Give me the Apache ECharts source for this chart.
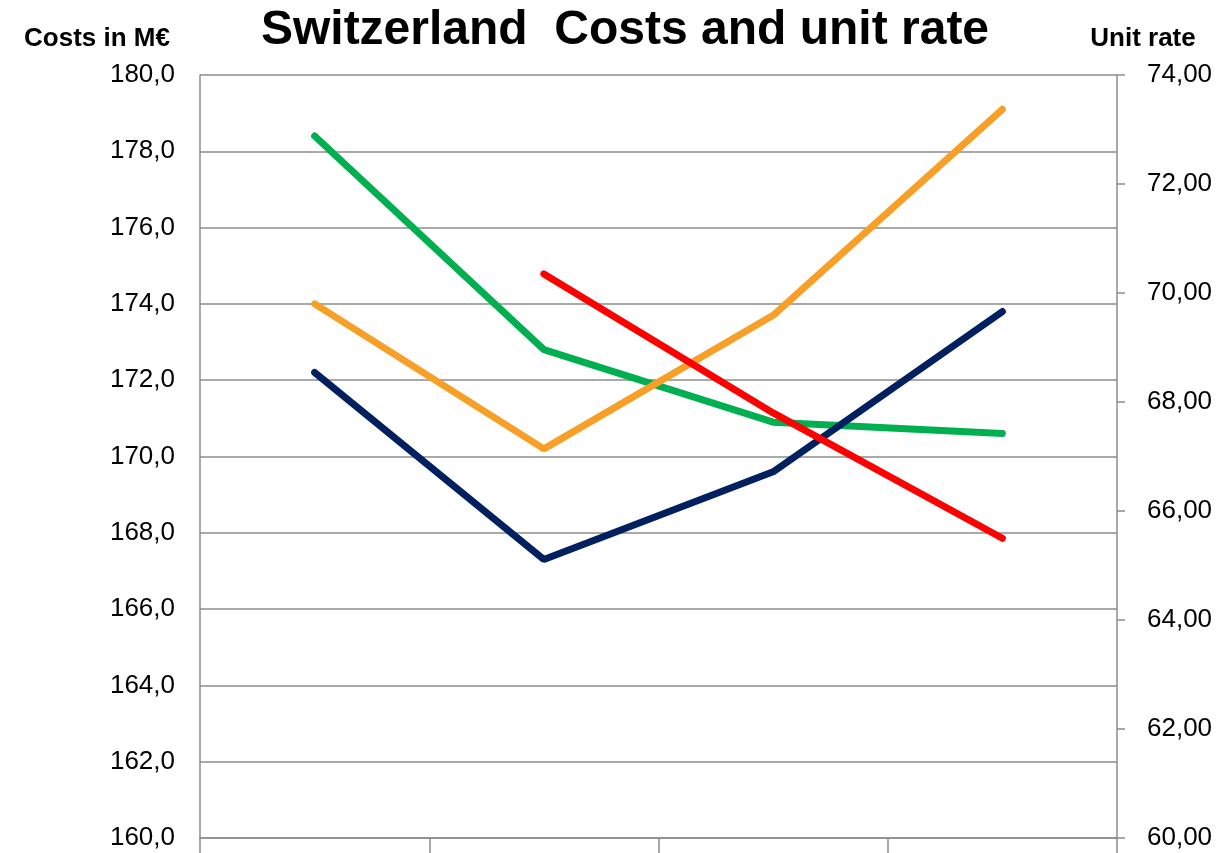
<!DOCTYPE html>
<html>
<head>
<meta charset="utf-8">
<script src="https://cdn.jsdelivr.net/npm/echarts@6/dist/echarts.min.js"></script>
<style>
  html, body { margin: 0; padding: 0; background: #fff; }
  #chart { width: 1224px; height: 853px; }
</style>
</head>
<body>
<div id="chart"></div>
<script>
// categories (labels are not shown in the picture)
var categories = ['1', '2', '3', '4'];
// costs in M€ (left axis)
var greenCosts = [178.4, 172.8, 170.9, 170.6];
var orangeCosts = [174.0, 170.2, 173.7, 179.1];
var navyCosts = [172.2, 167.3, 169.6, 173.8];
// unit rate (right axis)
var redRate = [null, 70.35, 67.8, 65.5];

var leftTicks = { min: 160, max: 180, interval: 2 };
var rightTicks = { min: 60, max: 74, interval: 2 };

var gridGrey = '#8c8c8c';

var chart = echarts.init(document.getElementById('chart'));
var option = {
    backgroundColor: '#fff',
    animation: false,
    title: [
        {
            text: 'Switzerland  Costs and unit rate',
            left: 620, top: 2, textAlign: 'center',
            textStyle: { fontFamily: 'Liberation Sans', fontSize: 48, fontWeight: 'bold', color: '#000' }
        },
        {
            text: 'Costs in M€',
            left: 92, top: 21, textAlign: 'center',
            textStyle: { fontFamily: 'Liberation Sans', fontSize: 26, fontWeight: 'bold', color: '#000' }
        },
        {
            text: 'Unit rate',
            left: 1138, top: 21, textAlign: 'center',
            textStyle: { fontFamily: 'Liberation Sans', fontSize: 26, fontWeight: 'bold', color: '#000' }
        }
    ],
    grid: { left: 200, right: 107, top: 75, bottom: 15, containLabel: false },
    xAxis: {
        type: 'category',
        data: categories,
        boundaryGap: true,
        axisLine: { show: true, lineStyle: { color: gridGrey, width: 1.5 } },
        axisTick: { show: true, length: 16, lineStyle: { color: gridGrey, width: 1.5 } },
        axisLabel: { show: false }
    },
    yAxis: [
        {
            type: 'value',
            min: leftTicks.min, max: leftTicks.max, interval: leftTicks.interval,
            axisLine: { show: true, lineStyle: { color: gridGrey, width: 1.5 } },
            axisTick: { show: false },
            splitLine: { show: true, lineStyle: { color: gridGrey, width: 1.5 } },
            axisLabel: {
                margin: 25,
                fontFamily: 'Liberation Sans', fontSize: 26, color: '#000',
                formatter: function (v) { return v.toFixed(1).replace('.', ','); }
            }
        },
        {
            type: 'value',
            position: 'right',
            min: rightTicks.min, max: rightTicks.max, interval: rightTicks.interval,
            axisLine: { show: true, lineStyle: { color: gridGrey, width: 1.5 } },
            axisTick: { show: true, inside: false, length: 8, lineStyle: { color: gridGrey, width: 1.5 } },
            splitLine: { show: false },
            axisLabel: {
                margin: 30,
                fontFamily: 'Liberation Sans', fontSize: 26, color: '#000',
                formatter: function (v) { return v.toFixed(2).replace('.', ','); }
            }
        }
    ],
    series: [
        {
            name: 'Green', type: 'line', yAxisIndex: 0, data: greenCosts,
            showSymbol: false, lineStyle: { color: '#00b050', width: 7, cap: 'round' }
        },
        {
            name: 'Orange', type: 'line', yAxisIndex: 0, data: orangeCosts,
            showSymbol: false, lineStyle: { color: '#f79f27', width: 7, cap: 'round' }
        },
        {
            name: 'Navy', type: 'line', yAxisIndex: 0, data: navyCosts,
            showSymbol: false, lineStyle: { color: '#002060', width: 7, cap: 'round' }
        },
        {
            name: 'Red', type: 'line', yAxisIndex: 1, data: redRate,
            showSymbol: false, lineStyle: { color: '#ff0000', width: 7, cap: 'round' }
        }
    ]
};
chart.setOption(option);
</script>
</body>
</html>
